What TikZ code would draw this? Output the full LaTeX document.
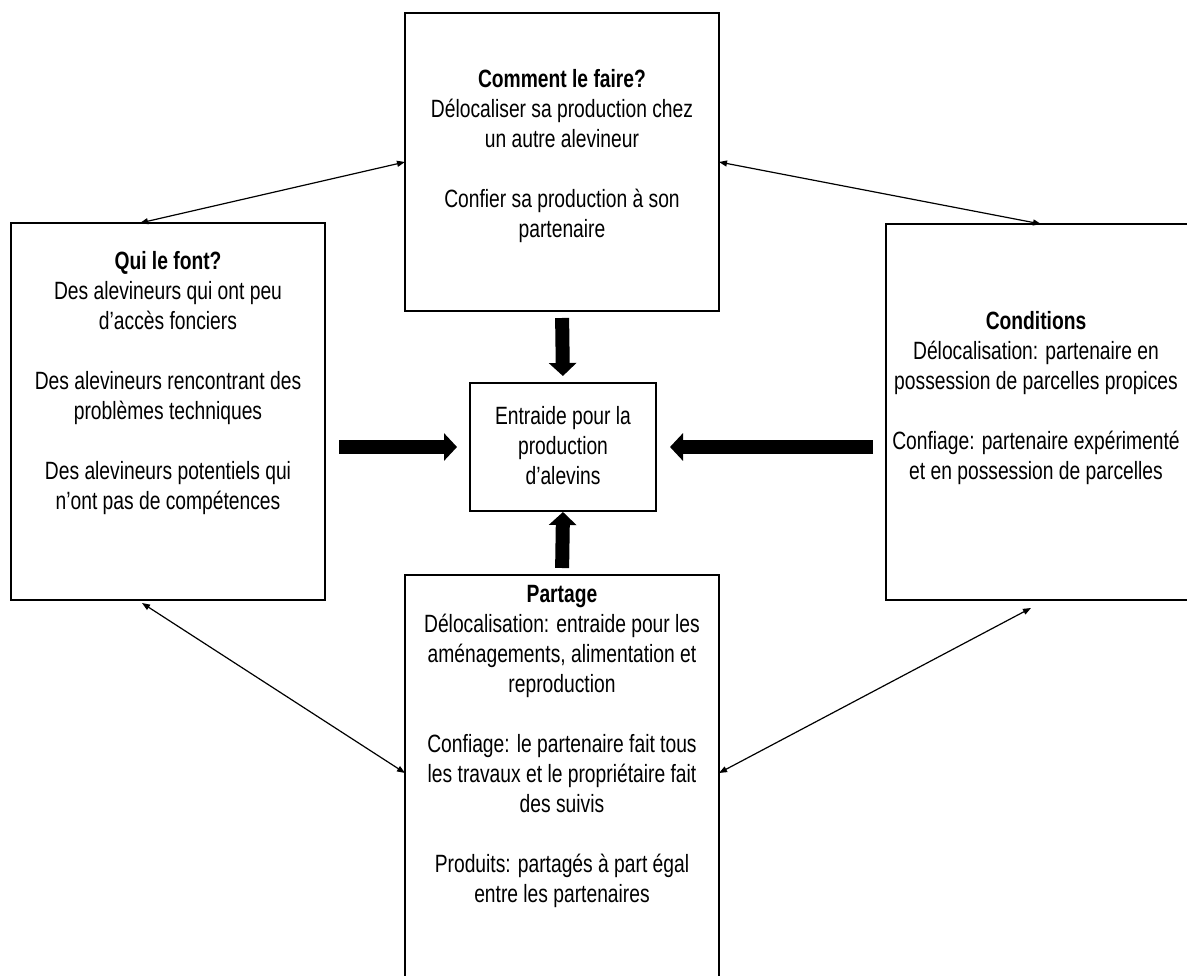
\documentclass[tikz,border=0pt]{standalone}
\usepackage{fontspec}
\setmainfont{Liberation Sans}[FakeStretch=0.77]
\usetikzlibrary{arrows.meta}
\tikzset{
  box/.style={draw, line width=2.8pt, rectangle, inner sep=0pt, outer sep=0pt, anchor=north west},
  txt/.style={align=center, inner sep=0pt, anchor=north, font=\fontsize{25}{30}\selectfont},
  thinarrow/.style={line width=1.2pt, {Triangle[length=8pt,width=6pt]}-{Triangle[length=8pt,width=6pt]}},
  bigarrow/.style={line width=14pt, -{Triangle[length=13pt,width=27pt]}},
}
\begin{document}
\begin{tikzpicture}[x=1pt,y=-1pt]
\useasboundingbox (0,0) rectangle (1187,976);
\clip (0,0) rectangle (1187,976);
% boxes
\node[box, minimum width=314pt, minimum height=298pt] (tp) at (405,13) {};
\node[box, minimum width=314pt, minimum height=377pt] (lf) at (11,223) {};
\node[box, minimum width=306pt, minimum height=376pt] (rt) at (886,224) {};
\node[box, minimum width=186pt, minimum height=128pt] (ct) at (470,383) {};
\node[box, minimum width=314pt, minimum height=415pt] (bt) at (405,575) {};
% texts
\node[txt] (tpT) at (562,66) {\strut\textbf{Comment le faire?}\\ Délocaliser sa production chez\\ un autre alevineur\\[30pt] Confier sa production à son\\ partenaire};
\node[txt] (lfT) at (168,248) {\strut\textbf{Qui le font?}\\ Des alevineurs qui ont peu\\ d’accès fonciers\\[30pt] Des alevineurs rencontrant des\\ problèmes techniques\\[30pt] Des alevineurs potentiels qui\\ n’ont pas de compétences};
\node[txt] (rtT) at (1036,308) {\strut\textbf{Conditions}\\ Délocalisation: partenaire en\\ possession de parcelles propices\\[30pt] Confiage: partenaire expérimenté\\ et en possession de parcelles};
\node[txt] (ctT) at (563,403) {\strut Entraide pour la\\ production\\ d’alevins};
\node[txt] (btT) at (562,581) {\strut\textbf{Partage}\\ Délocalisation: entraide pour les\\ aménagements, alimentation et\\ reproduction\\[30pt] Confiage: le partenaire fait tous\\ les travaux et le propriétaire fait\\ des suivis\\[30pt] Produits: partagés à part égal\\ entre les partenaires};
% thick arrows
\draw[bigarrow, shorten <=7pt, shorten >=7pt] (tp.south) -- (ct.north);
\draw[bigarrow, shorten <=14pt, shorten >=13pt] (lf.east |- ct.west) -- (ct.west);
\draw[bigarrow, shorten <=13pt, shorten >=14pt] (rt.west |- ct.east) -- (ct.east);
\draw[bigarrow, shorten <=7pt, shorten >=1pt] (bt.north) -- (ct.south);
% thin double arrows
\draw[thinarrow] (tp.west) -- ([xshift=-28pt]lf.north);
\draw[thinarrow] (tp.east) -- ([xshift=2pt]rt.north);
\draw[thinarrow] ([xshift=-26pt,yshift=-3pt]lf.south) -- ([yshift=9.5pt]bt.west);
\draw[thinarrow] ([yshift=9.5pt]bt.east) -- ([xshift=-8pt,yshift=-8pt]rt.south);
\end{tikzpicture}
\end{document}
